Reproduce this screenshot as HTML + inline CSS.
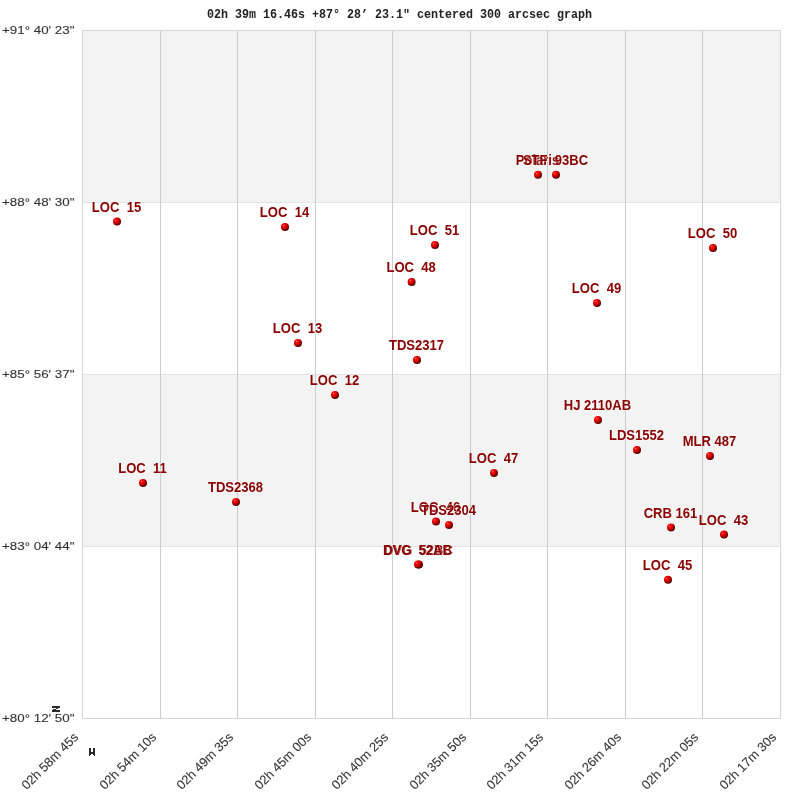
<!DOCTYPE html>
<html><head><meta charset="utf-8"><style>
html,body{margin:0;padding:0;background:#fff;width:800px;height:800px;overflow:hidden}
svg{display:block;will-change:transform}
text{white-space:pre}
.lab{font-family:"Liberation Sans",sans-serif;font-weight:bold;font-size:14.5px;fill:#8b0000;stroke:#fff;stroke-opacity:0.3;stroke-width:2px;paint-order:stroke;stroke-linejoin:round}
.ax{font-family:"Liberation Sans",sans-serif;font-size:12.8px;fill:#333333;stroke:#333;stroke-width:0.1px}
.ay{font-family:"Liberation Sans",sans-serif;font-size:11px;fill:#333333;stroke:#333;stroke-width:0.1px}
.ti{font-family:"Liberation Mono",monospace;font-weight:bold;font-size:11.7px;fill:#222}
</style></head><body>
<svg width="800" height="800" viewBox="0 0 800 800">
<defs><radialGradient id="g" cx="0.36" cy="0.33" r="0.7" fx="0.34" fy="0.3"><stop offset="0" stop-color="#ffa0a0"/><stop offset="0.14" stop-color="#ff1818"/><stop offset="0.4" stop-color="#e80000"/><stop offset="0.7" stop-color="#a00000"/><stop offset="1" stop-color="#400000"/></radialGradient></defs>

<rect x="82" y="30" width="698" height="688" fill="#fff"/>
<rect x="82" y="30" width="698" height="172" fill="#f3f3f3"/>
<rect x="82" y="374" width="698" height="172" fill="#f3f3f3"/>
<g shape-rendering="crispEdges">
<rect x="82" y="202" width="698" height="1" fill="#e3e3e3"/>
<rect x="82" y="374" width="698" height="1" fill="#e3e3e3"/>
<rect x="82" y="546" width="698" height="1" fill="#e3e3e3"/>
<rect x="160" y="30" width="1" height="688" fill="#cccccc"/>
<rect x="237" y="30" width="1" height="688" fill="#cccccc"/>
<rect x="315" y="30" width="1" height="688" fill="#cccccc"/>
<rect x="392" y="30" width="1" height="688" fill="#cccccc"/>
<rect x="470" y="30" width="1" height="688" fill="#cccccc"/>
<rect x="547" y="30" width="1" height="688" fill="#cccccc"/>
<rect x="625" y="30" width="1" height="688" fill="#cccccc"/>
<rect x="702" y="30" width="1" height="688" fill="#cccccc"/>
<rect x="82" y="30" width="699" height="1" fill="#d6d6d6"/>
<rect x="82" y="718" width="699" height="1" fill="#d6d6d6"/>
<rect x="82" y="30" width="1" height="689" fill="#d6d6d6"/>
<rect x="780" y="30" width="1" height="689" fill="#d6d6d6"/>
</g>
<text class="ti" transform="translate(207,17.5) scale(1,1.04)" textLength="385" lengthAdjust="spacingAndGlyphs" xml:space="preserve">02h 39m 16.46s +87° 28’ 23.1" centered 300 arcsec graph</text>
<text class="ay" x="2" y="34.0" textLength="72.5" lengthAdjust="spacingAndGlyphs">+91° 40' 23&quot;</text>
<text class="ay" x="2" y="206.0" textLength="72.5" lengthAdjust="spacingAndGlyphs">+88° 48' 30&quot;</text>
<text class="ay" x="2" y="378.0" textLength="72.5" lengthAdjust="spacingAndGlyphs">+85° 56' 37&quot;</text>
<text class="ay" x="2" y="550.0" textLength="72.5" lengthAdjust="spacingAndGlyphs">+83° 04' 44&quot;</text>
<text class="ay" x="2" y="722.0" textLength="72.5" lengthAdjust="spacingAndGlyphs">+80° 12' 50&quot;</text>
<text class="ax" text-anchor="end" transform="translate(79.0,738.0) rotate(-45)">02h 58m 45s</text>
<text class="ax" text-anchor="end" transform="translate(157.0,738.0) rotate(-45)">02h 54m 10s</text>
<text class="ax" text-anchor="end" transform="translate(234.0,738.0) rotate(-45)">02h 49m 35s</text>
<text class="ax" text-anchor="end" transform="translate(312.0,738.0) rotate(-45)">02h 45m 00s</text>
<text class="ax" text-anchor="end" transform="translate(389.0,738.0) rotate(-45)">02h 40m 25s</text>
<text class="ax" text-anchor="end" transform="translate(467.0,738.0) rotate(-45)">02h 35m 50s</text>
<text class="ax" text-anchor="end" transform="translate(544.0,738.0) rotate(-45)">02h 31m 15s</text>
<text class="ax" text-anchor="end" transform="translate(622.0,738.0) rotate(-45)">02h 26m 40s</text>
<text class="ax" text-anchor="end" transform="translate(699.0,738.0) rotate(-45)">02h 22m 05s</text>
<text class="ax" text-anchor="end" transform="translate(777.0,738.0) rotate(-45)">02h 17m 30s</text>
<g fill="#2a2a2a" shape-rendering="crispEdges">
<rect x="52" y="706" width="8" height="2"/>
<rect x="52" y="710" width="8" height="2"/>
<rect x="56" y="708" width="2" height="1"/>
<rect x="53" y="709" width="3" height="1"/>
<rect x="89" y="748" width="2" height="7"/>
<rect x="93" y="748" width="2" height="7"/>
<rect x="91" y="752" width="2" height="2"/>
<rect x="89" y="755" width="1" height="1"/>
<rect x="94" y="755" width="1" height="1"/>
</g>
<circle cx="117.0" cy="221.6" r="4.6" fill="#fff" opacity="0.7"/>
<circle cx="285.0" cy="227.0" r="4.6" fill="#fff" opacity="0.7"/>
<circle cx="435.0" cy="245.0" r="4.6" fill="#fff" opacity="0.7"/>
<circle cx="411.6" cy="282.0" r="4.6" fill="#fff" opacity="0.7"/>
<circle cx="713.0" cy="248.0" r="4.6" fill="#fff" opacity="0.7"/>
<circle cx="597.0" cy="303.0" r="4.6" fill="#fff" opacity="0.7"/>
<circle cx="298.0" cy="343.0" r="4.6" fill="#fff" opacity="0.7"/>
<circle cx="417.0" cy="360.0" r="4.6" fill="#fff" opacity="0.7"/>
<circle cx="335.0" cy="395.0" r="4.6" fill="#fff" opacity="0.7"/>
<circle cx="598.0" cy="420.0" r="4.6" fill="#fff" opacity="0.7"/>
<circle cx="637.0" cy="450.0" r="4.6" fill="#fff" opacity="0.7"/>
<circle cx="710.0" cy="456.0" r="4.6" fill="#fff" opacity="0.7"/>
<circle cx="143.0" cy="483.0" r="4.6" fill="#fff" opacity="0.7"/>
<circle cx="236.0" cy="502.0" r="4.6" fill="#fff" opacity="0.7"/>
<circle cx="494.0" cy="473.0" r="4.6" fill="#fff" opacity="0.7"/>
<circle cx="436.0" cy="521.5" r="4.6" fill="#fff" opacity="0.7"/>
<circle cx="449.0" cy="525.0" r="4.6" fill="#fff" opacity="0.7"/>
<circle cx="419.0" cy="564.6" r="4.6" fill="#fff" opacity="0.7"/>
<circle cx="418.0" cy="564.6" r="4.6" fill="#fff" opacity="0.7"/>
<circle cx="671.0" cy="527.6" r="4.6" fill="#fff" opacity="0.7"/>
<circle cx="724.0" cy="534.6" r="4.6" fill="#fff" opacity="0.7"/>
<circle cx="668.0" cy="579.8" r="4.6" fill="#fff" opacity="0.7"/>
<circle cx="538.0" cy="174.8" r="4.6" fill="#fff" opacity="0.7"/>
<circle cx="556.0" cy="174.8" r="4.6" fill="#fff" opacity="0.7"/>
<circle cx="117.0" cy="221.6" r="4" fill="url(#g)"/>
<circle cx="285.0" cy="227.0" r="4" fill="url(#g)"/>
<circle cx="435.0" cy="245.0" r="4" fill="url(#g)"/>
<circle cx="411.6" cy="282.0" r="4" fill="url(#g)"/>
<circle cx="713.0" cy="248.0" r="4" fill="url(#g)"/>
<circle cx="597.0" cy="303.0" r="4" fill="url(#g)"/>
<circle cx="298.0" cy="343.0" r="4" fill="url(#g)"/>
<circle cx="417.0" cy="360.0" r="4" fill="url(#g)"/>
<circle cx="335.0" cy="395.0" r="4" fill="url(#g)"/>
<circle cx="598.0" cy="420.0" r="4" fill="url(#g)"/>
<circle cx="637.0" cy="450.0" r="4" fill="url(#g)"/>
<circle cx="710.0" cy="456.0" r="4" fill="url(#g)"/>
<circle cx="143.0" cy="483.0" r="4" fill="url(#g)"/>
<circle cx="236.0" cy="502.0" r="4" fill="url(#g)"/>
<circle cx="494.0" cy="473.0" r="4" fill="url(#g)"/>
<circle cx="436.0" cy="521.5" r="4" fill="url(#g)"/>
<circle cx="449.0" cy="525.0" r="4" fill="url(#g)"/>
<circle cx="419.0" cy="564.6" r="4" fill="url(#g)"/>
<circle cx="418.0" cy="564.6" r="4" fill="url(#g)"/>
<circle cx="671.0" cy="527.6" r="4" fill="url(#g)"/>
<circle cx="724.0" cy="534.6" r="4" fill="url(#g)"/>
<circle cx="668.0" cy="579.8" r="4" fill="url(#g)"/>
<circle cx="538.0" cy="174.8" r="4" fill="url(#g)"/>
<circle cx="556.0" cy="174.8" r="4" fill="url(#g)"/>
<text class="lab" transform="translate(116.5,211.6) scale(0.9,1)" text-anchor="middle" xml:space="preserve">LOC  15</text>
<text class="lab" transform="translate(284.5,217.0) scale(0.9,1)" text-anchor="middle" xml:space="preserve">LOC  14</text>
<text class="lab" transform="translate(434.5,235.0) scale(0.9,1)" text-anchor="middle" xml:space="preserve">LOC  51</text>
<text class="lab" transform="translate(411.1,272.0) scale(0.9,1)" text-anchor="middle" xml:space="preserve">LOC  48</text>
<text class="lab" transform="translate(712.5,238.0) scale(0.9,1)" text-anchor="middle" xml:space="preserve">LOC  50</text>
<text class="lab" transform="translate(596.5,293.0) scale(0.9,1)" text-anchor="middle" xml:space="preserve">LOC  49</text>
<text class="lab" transform="translate(297.5,333.0) scale(0.9,1)" text-anchor="middle" xml:space="preserve">LOC  13</text>
<text class="lab" transform="translate(416.5,350.0) scale(0.9,1)" text-anchor="middle" xml:space="preserve">TDS2317</text>
<text class="lab" transform="translate(334.5,385.0) scale(0.9,1)" text-anchor="middle" xml:space="preserve">LOC  12</text>
<text class="lab" transform="translate(597.5,410.0) scale(0.9,1)" text-anchor="middle" xml:space="preserve">HJ 2110AB</text>
<text class="lab" transform="translate(636.5,440.0) scale(0.9,1)" text-anchor="middle" xml:space="preserve">LDS1552</text>
<text class="lab" transform="translate(709.5,446.0) scale(0.9,1)" text-anchor="middle" xml:space="preserve">MLR 487</text>
<text class="lab" transform="translate(142.5,473.0) scale(0.9,1)" text-anchor="middle" xml:space="preserve">LOC  11</text>
<text class="lab" transform="translate(235.5,492.0) scale(0.9,1)" text-anchor="middle" xml:space="preserve">TDS2368</text>
<text class="lab" transform="translate(493.5,463.0) scale(0.9,1)" text-anchor="middle" xml:space="preserve">LOC  47</text>
<text class="lab" transform="translate(435.5,511.5) scale(0.9,1)" text-anchor="middle" xml:space="preserve">LOC  46</text>
<text class="lab" transform="translate(448.5,515.0) scale(0.9,1)" text-anchor="middle" xml:space="preserve">TDS2304</text>
<text class="lab" transform="translate(418.5,554.6) scale(0.9,1)" text-anchor="middle" xml:space="preserve">DVG  52BC</text>
<text class="lab" transform="translate(417.5,554.6) scale(0.9,1)" text-anchor="middle" xml:space="preserve">DVG  52AB</text>
<text class="lab" transform="translate(670.5,517.6) scale(0.9,1)" text-anchor="middle" xml:space="preserve">CRB 161</text>
<text class="lab" transform="translate(723.5,524.6) scale(0.9,1)" text-anchor="middle" xml:space="preserve">LOC  43</text>
<text class="lab" transform="translate(667.5,569.8) scale(0.9,1)" text-anchor="middle" xml:space="preserve">LOC  45</text>
<text class="lab" transform="translate(537.5,164.8) scale(0.9,1)" text-anchor="middle" xml:space="preserve">Polaris</text>
<text class="lab" transform="translate(555.5,164.8) scale(0.9,1)" text-anchor="middle" xml:space="preserve">STF  93BC</text>
</svg></body></html>
